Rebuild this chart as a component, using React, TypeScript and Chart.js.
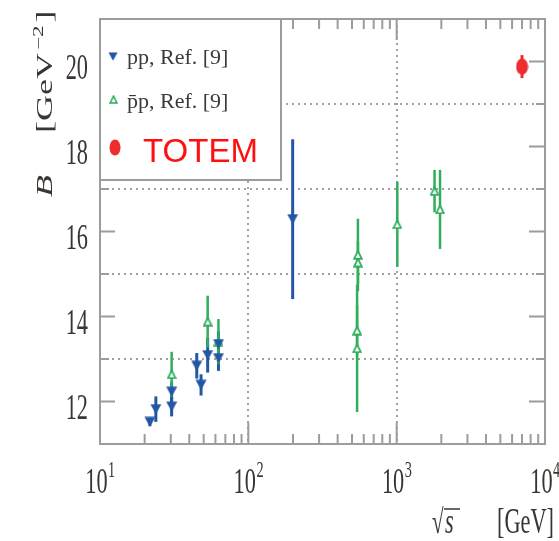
import React, { useEffect, useRef } from "react";
import { Chart, registerables } from "chart.js";

Chart.register(...registerables);

// ---- data ----
const ppX = [21.7, 23.8, 30.4, 30.4, 44.9, 48.0, 53.2, 62.9, 62.9, 199];
const ppY = [11.52, 11.82, 12.23, 11.88, 12.84, 12.39, 13.09, 13.35, 13.02, 16.29];
const ppErr = [0.1, 0.3, 0.22, 0.23, 0.3, 0.25, 0.41, 0.3, 0.3, 1.88];

const pbarX = [30.4, 53.2, 62.9, 548, 548, 541, 541, 1010, 1800, 1960];
const pbarY = [12.64, 13.88, 13.41, 15.45, 15.27, 13.67, 13.25, 16.17, 16.95, 16.52];
const pbarErr = [0.53, 0.61, 0.53, 0.85, 0.5, 0.6, 1.5, 1.0, 0.5, 0.93];

const totemX = [7000];
const totemY = [19.88];
const totemErr = [0.27];

const xDecades = [10, 100, 1000, 10000];
const xExponents = ["1", "2", "3", "4"];
const yMajorTicks = [12, 14, 16, 18, 20];
const yMinorTicks = [11, 13, 15, 17, 19, 21];
const yGridValues = [13, 15, 17, 19];
const xGridValues = [100, 1000];

const legendLabels = ["pp, Ref. [9]", "p\u0304p, Ref. [9]", "TOTEM"];

const BLUE = "#2456a6";
const GREEN = "#2fae5c";
const RED = "#ee2e2e";
const AXIS = "#9c9c9c";
const TEXT = "#3a3532";
const SQ = 0.62;

function makeDownTri(): HTMLCanvasElement {
  const c = document.createElement("canvas");
  c.width = 12; c.height = 11;
  const g = c.getContext("2d")!;
  g.fillStyle = BLUE;
  g.beginPath(); g.moveTo(0.5, 0.5); g.lineTo(11.5, 0.5); g.lineTo(6, 10.5); g.closePath(); g.fill();
  return c;
}
function makeOpenTri(): HTMLCanvasElement {
  const c = document.createElement("canvas");
  c.width = 10; c.height = 10;
  const g = c.getContext("2d")!;
  g.fillStyle = "#ffffff"; g.strokeStyle = GREEN; g.lineWidth = 1.8;
  g.beginPath(); g.moveTo(5, 1.2); g.lineTo(8.8, 8.8); g.lineTo(1.2, 8.8); g.closePath(); g.fill(); g.stroke();
  return c;
}
function makeEllipse(): HTMLCanvasElement {
  const c = document.createElement("canvas");
  c.width = 13; c.height = 17;
  const g = c.getContext("2d")!;
  g.fillStyle = RED;
  g.beginPath(); g.ellipse(6.5, 8.5, 6, 8, 0, 0, Math.PI * 2); g.fill();
  return c;
}

function sqText(ctx: CanvasRenderingContext2D, t: string, x: number, y: number, font: string, color: string, align: CanvasTextAlign, sx: number) {
  ctx.save();
  ctx.translate(x, y);
  ctx.scale(sx, 1);
  ctx.font = font;
  ctx.fillStyle = color;
  ctx.textAlign = align;
  ctx.textBaseline = "alphabetic";
  ctx.fillText(t, 0, 0);
  ctx.restore();
}

const framePlugin = {
  id: "frame",
  beforeDatasetsDraw(chart: any) {
    const { ctx, chartArea: a, scales } = chart;
    const xs = scales.x, ys = scales.y;
    ctx.save();
    // grid
    ctx.strokeStyle = "#a0a0a0";
    ctx.lineWidth = 2;
    ctx.setLineDash([2, 4]);
    yGridValues.forEach((v) => {
      const y = Math.round(ys.getPixelForValue(v));
      ctx.beginPath(); ctx.moveTo(a.left, y); ctx.lineTo(a.right, y); ctx.stroke();
    });
    xGridValues.forEach((v) => {
      const x = Math.round(xs.getPixelForValue(v));
      ctx.beginPath(); ctx.moveTo(x, a.top); ctx.lineTo(x, a.bottom); ctx.stroke();
    });
    ctx.setLineDash([]);
    // error bars
    chart.data.datasets.forEach((ds: any) => {
      ctx.strokeStyle = ds.errColor;
      ctx.lineWidth = ds.errWidth;
      ds.data.forEach((p: any, i: number) => {
        const e = ds.errors[i];
        const x = xs.getPixelForValue(p.x);
        ctx.beginPath();
        ctx.moveTo(x, ys.getPixelForValue(p.y - e));
        ctx.lineTo(x, ys.getPixelForValue(p.y + e));
        ctx.stroke();
      });
    });
    ctx.restore();
  },
  afterDatasetsDraw(chart: any) {
    const { ctx, chartArea: a, scales } = chart;
    const xs = scales.x, ys = scales.y;
    ctx.save();
    // frame
    ctx.strokeStyle = AXIS;
    ctx.lineWidth = 2;
    ctx.strokeRect(a.left, a.top, a.right - a.left, a.bottom - a.top);
    // x ticks
    ctx.beginPath();
    for (let d = 0; d < xDecades.length; d++) {
      const base = xDecades[d];
      const x = xs.getPixelForValue(base);
      ctx.moveTo(x, a.bottom); ctx.lineTo(x, a.bottom - 21);
      ctx.moveTo(x, a.top); ctx.lineTo(x, a.top + 21);
      if (d < xDecades.length - 1) {
        for (let m = 2; m <= 9; m++) {
          const xm = xs.getPixelForValue(base * m);
          ctx.moveTo(xm, a.bottom); ctx.lineTo(xm, a.bottom - 10);
          ctx.moveTo(xm, a.top); ctx.lineTo(xm, a.top + 10);
        }
      }
    }
    // y ticks
    yMajorTicks.forEach((v) => {
      const y = ys.getPixelForValue(v);
      ctx.moveTo(a.left, y); ctx.lineTo(a.left + 15, y);
      ctx.moveTo(a.right, y); ctx.lineTo(a.right - 16, y);
    });
    yMinorTicks.forEach((v) => {
      const y = ys.getPixelForValue(v);
      ctx.moveTo(a.left, y); ctx.lineTo(a.left + 9, y);
      ctx.moveTo(a.right, y); ctx.lineTo(a.right - 9, y);
    });
    ctx.stroke();

    // y labels
    yMajorTicks.forEach((v) => {
      const y = ys.getPixelForValue(v);
      sqText(ctx, String(v), 88, y + 17, "36px 'Liberation Serif'", TEXT, "right", SQ);
    });
    // x labels
    xDecades.forEach((v, i) => {
      const x = xs.getPixelForValue(v);
      ctx.font = "36px 'Liberation Serif'";
      const w1 = ctx.measureText("10").width * SQ;
      ctx.font = "23px 'Liberation Serif'";
      const w2 = ctx.measureText(xExponents[i]).width * SQ;
      const start = x - (w1 + w2) / 2;
      sqText(ctx, "10", start, 493, "36px 'Liberation Serif'", TEXT, "left", SQ);
      sqText(ctx, xExponents[i], start + w1 + 0.5, 477, "23px 'Liberation Serif'", TEXT, "left", SQ);
    });
    // x title
    sqText(ctx, "[GeV]", 554, 533, "36px 'Liberation Serif'", TEXT, "right", SQ);
    sqText(ctx, "\u221A", 432, 533, "34px 'Liberation Serif'", TEXT, "left", SQ);
    sqText(ctx, "s", 445, 533, "italic 36px 'Liberation Serif'", TEXT, "left", SQ);
    ctx.strokeStyle = TEXT; ctx.lineWidth = 1.5;
    ctx.beginPath(); ctx.moveTo(444, 509); ctx.lineTo(460, 509); ctx.stroke();

    // y title (rotated)
    ctx.save();
    ctx.translate(52, 197);
    ctx.scale(SQ, 1);
    ctx.rotate(-Math.PI / 2);
    ctx.fillStyle = TEXT;
    ctx.textBaseline = "alphabetic";
    ctx.textAlign = "left";
    ctx.font = "italic 36px 'Liberation Serif'";
    ctx.fillText("B", 0, 0);
    ctx.font = "36px 'Liberation Serif'";
    let px = 64;
    ctx.fillText("[GeV", px, 0);
    px += ctx.measureText("[GeV").width;
    ctx.font = "23px 'Liberation Serif'";
    ctx.fillText("\u22122", px + 3, -14);
    px += ctx.measureText("\u22122").width + 6;
    ctx.font = "36px 'Liberation Serif'";
    ctx.fillText("]", px, 0);
    ctx.restore();

    // legend
    ctx.fillStyle = "#ffffff";
    ctx.fillRect(a.left, a.top, 181, 161);
    ctx.strokeStyle = AXIS; ctx.lineWidth = 2;
    ctx.strokeRect(a.left, a.top, 181, 161);
    const tri = makeDownTri();
    ctx.drawImage(tri, 108, 52, 10, 9);
    const ot = makeOpenTri();
    ctx.drawImage(ot, 109, 95, 9, 9);
    const el = makeEllipse();
    ctx.drawImage(el, 109, 139, 12, 17);
    ctx.fillStyle = "#3a3a3a";
    ctx.font = "22px 'Liberation Serif'";
    ctx.textAlign = "left";
    ctx.fillText(legendLabels[0], 127, 64);
    ctx.fillText(legendLabels[1], 127, 108);
    ctx.fillStyle = "#ff1010";
    ctx.font = "33px 'Liberation Sans'";
    ctx.fillText(legendLabels[2], 143, 162);
    ctx.restore();
  },
};

export default function App() {
  const ref = useRef<HTMLCanvasElement>(null);
  useEffect(() => {
    if (!ref.current) return;
    const chart = new Chart(ref.current, {
      type: "scatter",
      data: {
        datasets: [
          {
            label: legendLabels[0],
            data: ppX.map((x, i) => ({ x, y: ppY[i] })),
            pointStyle: makeDownTri(),
            errors: ppErr,
            errColor: BLUE,
            errWidth: 3,
          } as any,
          {
            label: legendLabels[1],
            data: pbarX.map((x, i) => ({ x, y: pbarY[i] })),
            pointStyle: makeOpenTri(),
            errors: pbarErr,
            errColor: GREEN,
            errWidth: 2.5,
          } as any,
          {
            label: legendLabels[2],
            data: totemX.map((x, i) => ({ x, y: totemY[i] })),
            pointStyle: makeEllipse(),
            errors: totemErr,
            errColor: RED,
            errWidth: 3,
          } as any,
        ],
      },
      options: {
        responsive: false,
        animation: false,
        layout: { padding: { left: 100, right: 14, top: 19, bottom: 97 } },
        plugins: { legend: { display: false }, tooltip: { enabled: false } },
        scales: {
          x: { type: "logarithmic", min: 10, max: 10000, display: false },
          y: { type: "linear", min: 11, max: 21, display: false },
        },
      },
      plugins: [framePlugin],
    });
    return () => chart.destroy();
  }, []);
  return (
    <div style={{ position: "fixed", left: 0, top: 0, width: 559, height: 541, background: "#fff" }}>
      <canvas ref={ref} width={559} height={541} style={{ width: 559, height: 541 }} />
    </div>
  );
}
